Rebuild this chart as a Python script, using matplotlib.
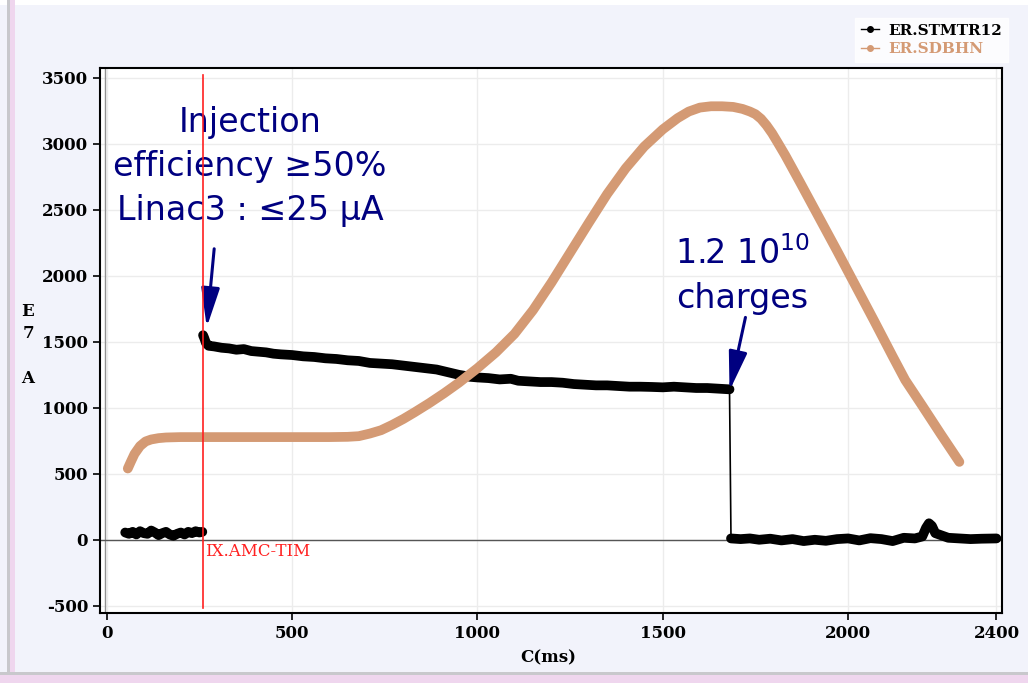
import matplotlib.pyplot as plt
import numpy as np
from matplotlib.patches import Rectangle
from matplotlib.lines import Line2D

plt.rcParams['axes.unicode_minus'] = False

# ER.STMTR12 before injection (ms, E7 charges)
pre_t = [50, 60, 70, 80, 90, 100, 110, 120, 130, 140, 150, 160, 170, 180, 190,
         200, 210, 220, 230, 240, 250, 258]
pre_v = [55, 45, 60, 40, 65, 50, 45, 70, 55, 35, 50, 60, 40, 30, 45, 55, 40, 60,
         50, 65, 55, 60]

# ER.STMTR12 after injection, up to extraction
beam_t = [260, 263, 268, 275, 290, 310, 330, 350, 370, 390, 410, 430, 450, 470,
          500, 530, 560, 590, 620, 650, 680, 710, 740, 770, 800, 830, 860, 890,
          920, 950, 980, 1000, 1030, 1060, 1090, 1110, 1140, 1170, 1200, 1230,
          1260, 1290, 1320, 1350, 1380, 1410, 1440, 1470, 1500, 1530, 1560, 1590,
          1620, 1650, 1680]
beam_v = [1550, 1530, 1490, 1470, 1465, 1455, 1450, 1440, 1445, 1430, 1425, 1420,
          1410, 1405, 1400, 1390, 1385, 1375, 1370, 1360, 1355, 1340, 1335, 1330,
          1320, 1310, 1300, 1290, 1270, 1250, 1235, 1230, 1225, 1215, 1220, 1205,
          1200, 1195, 1195, 1190, 1180, 1175, 1170, 1170, 1165, 1160, 1160, 1158,
          1155, 1160, 1155, 1150, 1150, 1145, 1140]

# ER.STMTR12 after extraction
post_t = [1684, 1710, 1735, 1760, 1790, 1820, 1850, 1880, 1910, 1940, 1970, 2000,
          2030, 2060, 2090, 2120, 2150, 2180, 2200, 2210, 2218, 2226, 2235, 2250,
          2270, 2300, 2330, 2360, 2400]
post_v = [10, 5, 10, 0, 8, -5, 5, -10, 0, -8, 5, 10, -5, 12, 5, -10, 15, 10, 25,
          90, 125, 105, 50, 35, 15, 10, 5, 8, 10]

# ER.SDBHN
sdbhn_t = [57, 65, 75, 90, 105, 120, 140, 160, 200, 300, 400, 500, 600, 650, 680,
           710, 740, 770, 800, 830, 870, 910, 950, 1000, 1050, 1100, 1150, 1200,
           1250, 1300, 1350, 1400, 1450, 1500, 1540, 1570, 1600, 1630, 1660, 1690,
           1715, 1735, 1750, 1765, 1780, 1795, 1810, 1830, 1870, 1920, 1970, 2020,
           2070, 2120, 2154, 2200, 2250, 2300]
sdbhn_v = [540, 590, 650, 710, 745, 760, 770, 775, 778, 778, 778, 778, 778, 780,
           785, 805, 830, 870, 915, 965, 1035, 1110, 1190, 1300, 1420, 1560, 1740,
           1950, 2175, 2400, 2620, 2815, 2980, 3110, 3195, 3245, 3275, 3285, 3285,
           3280, 3265, 3245, 3225, 3190, 3140, 3080, 3010, 2915, 2710, 2450, 2190,
           1925, 1660, 1390, 1210, 1015, 800, 590]

inj_time = 260
x_ticks = [0, 500, 1000, 1500, 2000, 2400]
y_ticks = [-500, 0, 500, 1000, 1500, 2000, 2500, 3000, 3500]

bg = '#f2f3fb'
orange = '#d49a74'
navy = '#000080'
tick_font = dict(family='DejaVu Serif', weight='bold', size=12)

fig = plt.figure(figsize=(10.28, 6.83), dpi=100, facecolor=bg)

# frame strips round the window
fig.patches.append(Rectangle((0, 1 - 5 / 683), 1, 5 / 683, transform=fig.transFigure,
                             facecolor='white', edgecolor='none', zorder=0))
fig.patches.append(Rectangle((7 / 1028, 0), 3 / 1028, 1, transform=fig.transFigure,
                             facecolor='#c8c8cc', edgecolor='none', zorder=0))
fig.patches.append(Rectangle((10 / 1028, 0), 5 / 1028, 1, transform=fig.transFigure,
                             facecolor='#efd6ee', edgecolor='none', zorder=0))
fig.patches.append(Rectangle((0, 0), 1, 8 / 683, transform=fig.transFigure,
                             facecolor='#efd6ee', edgecolor='none', zorder=0))
fig.patches.append(Rectangle((0, 8 / 683), 1, 3 / 683, transform=fig.transFigure,
                             facecolor='#c8c8cc', edgecolor='none', zorder=0))

ax = fig.add_axes([100 / 1028, 1 - 613 / 683, 902 / 1028, 545 / 683])
ax.set_facecolor('white')
ax.set_xlim(-18, 2415)
ax.set_ylim(-555, 3575)
ax.set_xticks(x_ticks)
ax.set_yticks(y_ticks)
ax.grid(True, color='#ececec', lw=1)
ax.set_axisbelow(True)
ax.tick_params(direction='out', length=5, width=1.2, color='black')
for lab in ax.get_xticklabels() + ax.get_yticklabels():
    lab.set_fontproperties(tick_font)
for s in ax.spines.values():
    s.set_linewidth(1.5)
ax.axvline(-4, color='#909090', lw=1, zorder=1)
ax.axhline(0, color='#555555', lw=1, zorder=1)

# black trace: thin line through the drop, thick bands on the data
ax.plot(beam_t[-1:] + post_t[:1], beam_v[-1:] + post_v[:1], color='black', lw=1.2, zorder=3)
for tt, vv in [(pre_t, pre_v), (beam_t, beam_v), (post_t, post_v)]:
    ax.plot(tt, vv, color='black', lw=7, solid_capstyle='round', zorder=3)

ax.plot(sdbhn_t, sdbhn_v, color=orange, lw=7, solid_capstyle='round', zorder=4)

# timing marker
ax.plot([inj_time, inj_time], [-515, 3520], color='#ff2020', lw=1.2, zorder=7)
ax.text(inj_time + 5, -25, 'IX.AMC-TIM', color='#ff2020', fontsize=12,
        family='DejaVu Serif', va='top', ha='left', zorder=5)

# annotations
arrow = dict(arrowstyle='-|>,head_width=0.4,head_length=1.7', color=navy,
             lw=2.2, shrinkA=0, shrinkB=0, mutation_scale=14)
ax.text(387, 2370, 'Injection\nefficiency \u226550%\nLinac3 : \u226425 \u03bcA',
        ha='center', va='bottom', fontsize=24, color=navy, linespacing=1.42, zorder=6)
ax.annotate('', xy=(inj_time + 10, beam_v[0] + 60), xytext=(290, 2205),
            arrowprops=arrow, zorder=6)
ax.text(1715, 1705, '1.2 10$^{\\mathregular{10}}$\ncharges',
        ha='center', va='bottom', fontsize=24, color=navy, linespacing=1.4, zorder=6)
ax.annotate('', xy=(beam_t[-1], beam_v[-1] - 10), xytext=(1723, 1685),
            arrowprops=arrow, zorder=6)

# axis labels
fig.text(548 / 1028, 1 - 658 / 683, 'C(ms)', ha='center', va='center', **tick_font)
fig.text(28 / 1028, 1 - 345 / 683, 'E\n7\n\nA', ha='center', va='center',
         linespacing=1.4, family='DejaVu Serif', weight='bold', size=12)

# legend
handles = [Line2D([0], [0], color='black', marker='o', ms=4, lw=1),
           Line2D([0], [0], color=orange, marker='o', ms=4, lw=1)]
leg = fig.legend(handles, ['ER.STMTR12', 'ER.SDBHN'], loc='upper right',
                 bbox_to_anchor=(1016 / 1028, 1 - 10 / 683), frameon=True,
                 fancybox=False, handlelength=1.2, handletextpad=0.6,
                 labelspacing=0.3, borderpad=0.4,
                 prop=dict(family='DejaVu Serif', weight='bold', size=11))
leg.get_frame().set_facecolor('white')
leg.get_frame().set_edgecolor('white')
leg.get_texts()[1].set_color(orange)

fig.savefig('out.png', dpi=100, facecolor=bg)
